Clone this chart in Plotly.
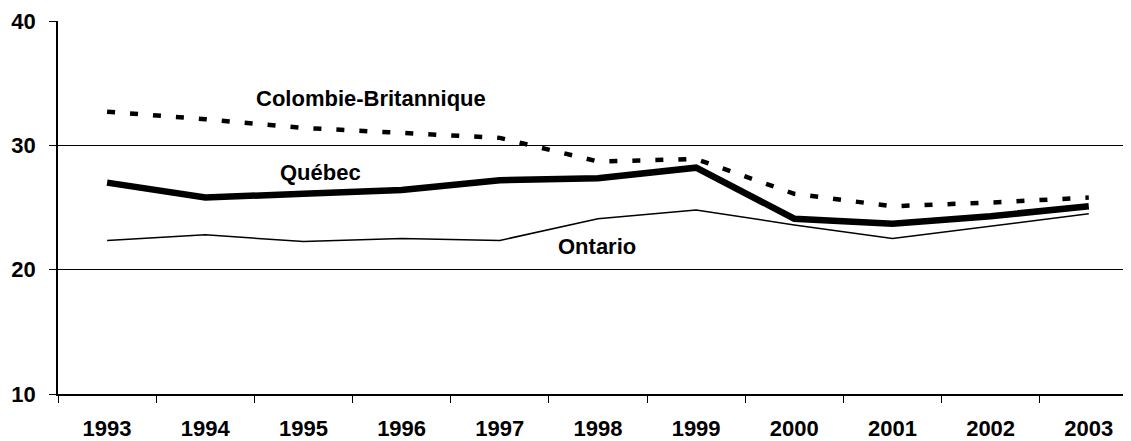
import plotly.graph_objects as go

years = ["1993", "1994", "1995", "1996", "1997", "1998", "1999", "2000", "2001", "2002", "2003"]
colombie_britannique = [32.7, 32.1, 31.4, 31.0, 30.6, 28.7, 28.9, 26.1, 25.1, 25.4, 25.8]
quebec = [27.0, 25.8, 26.1, 26.4, 27.2, 27.35, 28.2, 24.1, 23.7, 24.3, 25.1]
ontario = [22.35, 22.8, 22.26, 22.5, 22.35, 24.1, 24.8, 23.6, 22.5, 23.5, 24.5]

font_family = "Liberation Sans, Arial, sans-serif"

fig = go.Figure()
fig.add_trace(go.Scatter(x=years, y=ontario, mode="lines", name="Ontario",
                         line=dict(color="black", width=1.5)))
fig.add_trace(go.Scatter(x=years, y=quebec, mode="lines", name="Québec",
                         line=dict(color="black", width=6.5)))
fig.add_trace(go.Scatter(x=years, y=colombie_britannique, mode="lines", name="Colombie-Britannique",
                         line=dict(color="black", width=4.5, dash="8px,15px")))

fig.add_annotation(text="<b>Colombie-Britannique</b>", x=2.69, y=33.76, xref="x", yref="y",
                   showarrow=False, font=dict(size=22, color="black", family=font_family))
fig.add_annotation(text="<b>Québec</b>", x=2.17, y=27.8, xref="x", yref="y",
                   showarrow=False, font=dict(size=22, color="black", family=font_family))
fig.add_annotation(text="<b>Ontario</b>", x=4.99, y=21.9, xref="x", yref="y",
                   showarrow=False, font=dict(size=22, color="black", family=font_family))

# The page body has an 8px margin, so the figure is sized/offset to compensate.
fig.update_layout(
    width=1123, height=433,
    margin=dict(l=50, r=0, t=13, b=45),
    paper_bgcolor="white", plot_bgcolor="white",
    showlegend=False,
    font=dict(family=font_family, color="black"),
)
fig.update_xaxes(
    type="category", range=[-0.5, 10.43],
    showline=True, linecolor="black", linewidth=1.5,
    showgrid=False, zeroline=False,
    ticks="outside", tickson="boundaries", ticklen=7, tickcolor="black", tickwidth=1,
    tickfont=dict(size=22, color="black", family=font_family, weight="bold"),
    ticklabelstandoff=14,
)
fig.update_yaxes(
    range=[10, 40], tickvals=[10, 20, 30, 40],
    showline=True, linecolor="black", linewidth=1.5,
    showgrid=True, gridcolor="black", gridwidth=1, zeroline=False,
    ticks="outside", ticklen=7, tickcolor="black", tickwidth=1,
    tickfont=dict(size=22, color="black", family=font_family, weight="bold"),
    ticklabelstandoff=9,
)

fig.write_html("out.html")
